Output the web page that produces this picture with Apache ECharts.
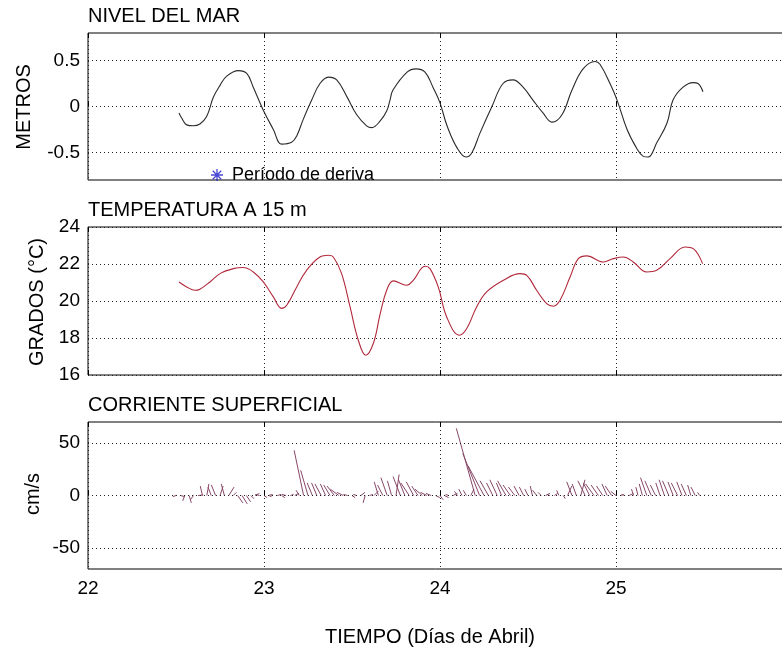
<!DOCTYPE html>
<html>
<head>
<meta charset="utf-8">
<script src="https://cdn.jsdelivr.net/npm/echarts@6/dist/echarts.min.js"></script>
<style>
html,body{margin:0;padding:0;background:#fff;}
#chart{width:782px;height:651px;}
</style>
</head>
<body>
<div id="chart"></div>
<script>
// ---------------- DATA ----------------
// Sea level (m) vs day of April
const seaDays = [22.517,22.532,22.561,22.598,22.636,22.674,22.712,22.750,22.788,22.854,
  22.902,22.939,22.996,23.053,23.100,23.157,23.186,23.223,23.271,23.318,
  23.366,23.413,23.470,23.527,23.583,23.612,23.659,23.697,23.716,23.733,
  23.813,23.864,23.915,23.960,24.000,24.040,24.097,24.148,24.182,24.227,
  24.295,24.358,24.415,24.472,24.528,24.585,24.636,24.693,24.750,24.813,
  24.881,24.909,24.966,25.006,25.063,25.119,25.153,25.182,25.233,25.290,
  25.324,25.381,25.438,25.466,25.494];
const seaLevel = [-0.07,-0.125,-0.20,-0.21,-0.19,-0.11,0.10,0.23,0.33,0.39,
  0.36,0.21,-0.04,-0.25,-0.41,-0.39,-0.32,-0.14,0.07,0.25,
  0.32,0.29,0.11,-0.09,-0.21,-0.23,-0.16,-0.05,0.07,0.18,
  0.375,0.41,0.375,0.21,0.04,-0.21,-0.45,-0.55,-0.50,-0.29,
  0.00,0.25,0.29,0.21,0.07,-0.07,-0.17,-0.09,0.18,0.41,
  0.49,0.46,0.25,0.07,-0.25,-0.46,-0.54,-0.55,-0.39,-0.18,
  0.07,0.21,0.26,0.25,0.16];

// Temperature at 15 m (°C)
const tempDays = [22.517,22.561,22.608,22.636,22.693,22.750,22.826,22.883,22.939,22.996,
  23.053,23.100,23.129,23.186,23.242,23.318,23.366,23.394,23.441,23.489,
  23.536,23.578,23.621,23.660,23.697,23.735,23.811,23.848,23.915,23.943,
  23.990,24.038,24.110,24.152,24.208,24.265,24.360,24.455,24.493,24.549,
  24.606,24.644,24.682,24.739,24.786,24.834,24.928,24.985,25.042,25.098,
  25.174,25.231,25.307,25.392,25.439,25.492];
const tempValues = [21.03,20.76,20.58,20.64,21.03,21.48,21.75,21.81,21.57,21.03,
  20.22,19.60,19.77,20.76,21.66,22.38,22.47,22.38,21.48,19.68,
  17.88,17.07,17.70,19.30,20.58,21.09,20.85,21.12,21.88,21.75,
  20.76,19.14,18.15,18.51,19.68,20.49,21.12,21.48,21.39,20.58,
  19.86,19.72,20.04,21.30,22.29,22.44,22.11,22.29,22.38,22.11,
  21.57,21.66,22.29,22.92,22.83,22.02];

// Surface current vectors (cm/s): time, east (u) and north (v) components
const curDays = [22.500,22.525,22.550,22.575,22.600,22.625,22.650,22.675,22.700,22.725,
  22.750,22.775,22.800,22.825,22.850,22.875,22.900,22.925,22.950,22.975,
  23.000,23.025,23.050,23.075,23.100,23.125,23.150,23.175,23.200,23.225,
  23.250,23.275,23.300,23.325,23.350,23.375,23.400,23.425,23.450,23.475,
  23.500,23.525,23.550,23.575,23.600,23.625,23.650,23.675,23.700,23.725,
  23.750,23.775,23.800,23.825,23.850,23.875,23.900,23.925,23.950,23.975,
  24.000,24.025,24.050,24.075,24.100,24.125,24.150,24.175,24.200,24.225,
  24.250,24.275,24.300,24.325,24.350,24.375,24.400,24.425,24.450,24.475,
  24.500,24.525,24.550,24.575,24.600,24.625,24.650,24.675,24.700,24.725,
  24.750,24.775,24.800,24.825,24.850,24.875,24.900,24.925,24.950,24.975,
  25.000,25.025,25.050,25.075,25.100,25.125,25.150,25.175,25.200,25.225,
  25.250,25.275,25.300,25.325,25.350,25.375,25.400,25.425,25.450,25.475,
  25.500];
const curU = [-3,4,-2,2,-3,5,-2,2,-3,-4,
  3,-3,5,3,5,5,4,3,4,-4,
  3,4,-3,4,3,-4,3,4,-3,-9,
  -7,-5,-5,-6,-5,-6,-7,-8,-6,-4,
  3,-3,4,-2,3,4,-4,-5,-6,-4,
  3,-7,-6,-8,-7,-6,-7,-6,-5,4,
  3,4,-3,4,-3,-3,-3,3,-18,-16,
  -15,-8,-6,-7,-5,-8,-7,-6,-5,-4,
  -3,-2,-4,-3,4,-3,3,-2,2,4,
  -5,-4,4,-7,-6,-8,-7,-6,-5,-6,
  -5,3,-3,4,-2,-2,-3,-6,-6,-5,
  -4,-5,-6,-5,-6,-5,-5,-3,-4,-2,
  1];
const curV = [-1,-1,-5,-7,-4,0.5,9,11,8,10,
  9,11,8,3,-7,-8,-6,-3,2,1,
  -2,1,-1,1,-2,1,1,2,5,43,
  24,12,12,11,11,10,9,6,3,1,
  -2,1,3,-7,1,4,13,10,17,14,
  20,18,15,12,13,9,6,3,2,-2,
  -4,-2,1,2,4,6,5,6,64,40,
  28,14,12,15,12,14,10,8,9,8,
  6,9,5,3,2,1,2,5,-3,9,
  13,11,15,14,12,11,10,9,11,9,
  4,1,1,2,6,8,11,17,14,10,
  12,15,14,13,12,13,11,10,8,3,
  0.5];

// Axis ticks / labels
const dayTicks = [22, 23, 24, 25];
const seaTicks = [-0.5, 0, 0.5];
const tempTicks = [16, 18, 20, 22, 24];
const curTicks = [-50, 0, 50];

// Texts
const titles = ['NIVEL DEL MAR', 'TEMPERATURA A 15 m', 'CORRIENTE SUPERFICIAL'];
const yNames = ['METROS', 'GRADOS (°C)', 'cm/s'];
const xName = 'TIEMPO (Días de Abril)';
const legendName = 'Período de deriva';

// ---------------- CHART ----------------
const FONT = "'Liberation Sans', Arial, Helvetica, sans-serif";
const chart = echarts.init(document.getElementById('chart'), null, {renderer: 'canvas'});

function pickFormatter(ticks, fmt) {
  return function (v) {
    for (const t of ticks) {
      if (Math.abs(v - t) < 1e-6) return fmt ? fmt(t) : String(t);
    }
    return '';
  };
}

const dotted = {type: [1, 3], color: '#222', width: 1};
const grids = [
  {left: 88, top: 33, width: 704, height: 147},
  {left: 88, top: 227, width: 704, height: 148},
  {left: 88, top: 422, width: 704, height: 147}
].map(g => Object.assign(g, {show: true, borderColor: '#000', borderWidth: 1, backgroundColor: 'transparent', containLabel: false, outerBoundsMode: 'none'}));

const xAxes = [];
for (let i = 0; i < 3; i++) {
  xAxes.push({
    type: 'value', gridIndex: i, min: 22, max: 26, interval: 1, position: 'bottom',
    axisLine: {show: false},
    axisTick: {show: true, inside: true, length: 5, lineStyle: {color: '#000'}},
    axisLabel: {show: i === 2, margin: 10, fontSize: 19, fontFamily: FONT, color: '#000',
      formatter: pickFormatter(dayTicks)},
    splitLine: {show: true, lineStyle: dotted}
  });
}
for (let i = 0; i < 3; i++) {
  xAxes.push({
    type: 'value', gridIndex: i, min: 22, max: 26, interval: 1, position: 'top',
    axisLine: {show: false},
    axisTick: {show: true, inside: true, length: 5, lineStyle: {color: '#000'}},
    axisLabel: {show: false},
    splitLine: {show: false}
  });
}

const yLabelBase = {margin: 8, fontSize: 19, fontFamily: FONT, color: '#000'};
const yAxes = [
  {type: 'value', gridIndex: 0, min: -0.8, max: 0.8, interval: 0.1,
    axisLine: {show: false}, axisTick: {show: false}, splitLine: {show: false},
    axisLabel: Object.assign({}, yLabelBase, {formatter: pickFormatter(seaTicks)})},
  {type: 'value', gridIndex: 1, min: 16, max: 24, interval: 2,
    axisLine: {show: false}, axisTick: {show: false},
    splitLine: {show: true, lineStyle: dotted},
    axisLabel: Object.assign({}, yLabelBase, {formatter: pickFormatter(tempTicks)})},
  {type: 'value', gridIndex: 2, min: -70, max: 70, interval: 10,
    axisLine: {show: false}, axisTick: {show: false}, splitLine: {show: false},
    axisLabel: Object.assign({}, yLabelBase, {formatter: pickFormatter(curTicks)})}
];

function hLines(values) {
  return {
    silent: true, symbol: 'none', animation: false,
    label: {show: false}, emphasis: {disabled: true},
    lineStyle: dotted,
    data: values.map(v => ({yAxis: v}))
  };
}

const seaData = seaDays.map((d, i) => [d, seaLevel[i]]);
const tempData = tempDays.map((d, i) => [d, tempValues[i]]);
const curData = curDays.map((d, i) => [d, curU[i], curV[i]]);

// asterisk icon built from thin bars
function asteriskPath() {
  const r = 5.5, w = 0.6;
  let p = '';
  for (let k = 0; k < 4; k++) {
    const a = k * Math.PI / 4;
    const c = Math.cos(a), s = Math.sin(a);
    const nx = -s * w, ny = c * w;
    const pts = [
      [-r * c + nx, -r * s + ny], [r * c + nx, r * s + ny],
      [r * c - nx, r * s - ny], [-r * c - nx, -r * s - ny]
    ];
    p += 'M' + pts.map(q => (q[0] + 6).toFixed(2) + ',' + (q[1] + 6).toFixed(2)).join('L') + 'Z';
  }
  return 'path://' + p;
}

const textStyle = (t, x, y, extra) => Object.assign({
  type: 'text', x: x, y: y, silent: true,
  style: {text: t, fontSize: 20, fontFamily: FONT, fill: '#000', align: 'left', verticalAlign: 'middle'}
}, extra || {});

const option = {
  animation: false,
  backgroundColor: '#fff',
  grid: grids,
  xAxis: xAxes,
  yAxis: yAxes,
  legend: {
    show: true, left: 206, top: 161, orient: 'horizontal',
    itemWidth: 12, itemHeight: 12, itemGap: 6,
    icon: asteriskPath(),
    textStyle: {fontSize: 18, fontFamily: FONT, color: '#000', padding: [0, 0, 0, 4]},
    selectedMode: false,
    data: [legendName]
  },
  graphic: [
    textStyle(titles[0], 88, 16),
    textStyle(titles[1], 88, 210),
    textStyle(titles[2], 88, 405),
    {type: 'text', x: 430, y: 637, silent: true,
      style: {text: xName, fontSize: 20, fontFamily: FONT, fill: '#000', align: 'center', verticalAlign: 'middle'}},
    {type: 'text', x: 24, y: 107, rotation: Math.PI / 2, silent: true,
      style: {text: yNames[0], fontSize: 20, fontFamily: FONT, fill: '#000', align: 'center', verticalAlign: 'middle'}},
    {type: 'text', x: 37, y: 302, rotation: Math.PI / 2, silent: true,
      style: {text: yNames[1], fontSize: 20, fontFamily: FONT, fill: '#000', align: 'center', verticalAlign: 'middle'}},
    {type: 'text', x: 33, y: 494, rotation: Math.PI / 2, silent: true,
      style: {text: yNames[2], fontSize: 20, fontFamily: FONT, fill: '#000', align: 'center', verticalAlign: 'middle'}}
  ],
  series: [
    {
      name: 'Nivel', type: 'line', xAxisIndex: 0, yAxisIndex: 0,
      data: seaData, smooth: 0.4, showSymbol: false, symbol: 'none',
      lineStyle: {color: '#2a2a2a', width: 1.1}, itemStyle: {color: '#2a2a2a'},
      markLine: hLines(seaTicks), z: 3
    },
    {
      name: legendName, type: 'scatter', xAxisIndex: 0, yAxisIndex: 0,
      data: [], itemStyle: {color: '#1c1cc8'}
    },
    {
      name: 'Temperatura', type: 'line', xAxisIndex: 1, yAxisIndex: 1,
      data: tempData, smooth: 0.4, showSymbol: false, symbol: 'none',
      lineStyle: {color: '#b0283a', width: 1.1}, itemStyle: {color: '#b0283a'}, z: 3
    },
    {
      name: 'Corriente', type: 'custom', xAxisIndex: 2, yAxisIndex: 2,
      data: curData, z: 3,
      renderItem: function (params, api) {
        const t = api.value(0), u = api.value(1), v = api.value(2);
        const base = api.coord([t, 0]);
        const k = api.size([0, 1])[1];
        return {
          type: 'line',
          shape: {x1: base[0], y1: base[1], x2: base[0] + u * k, y2: base[1] - v * k},
          style: {stroke: '#874868', lineWidth: 1}
        };
      },
      markLine: hLines(curTicks)
    }
  ]
};
chart.setOption(option);
</script>
</body>
</html>
